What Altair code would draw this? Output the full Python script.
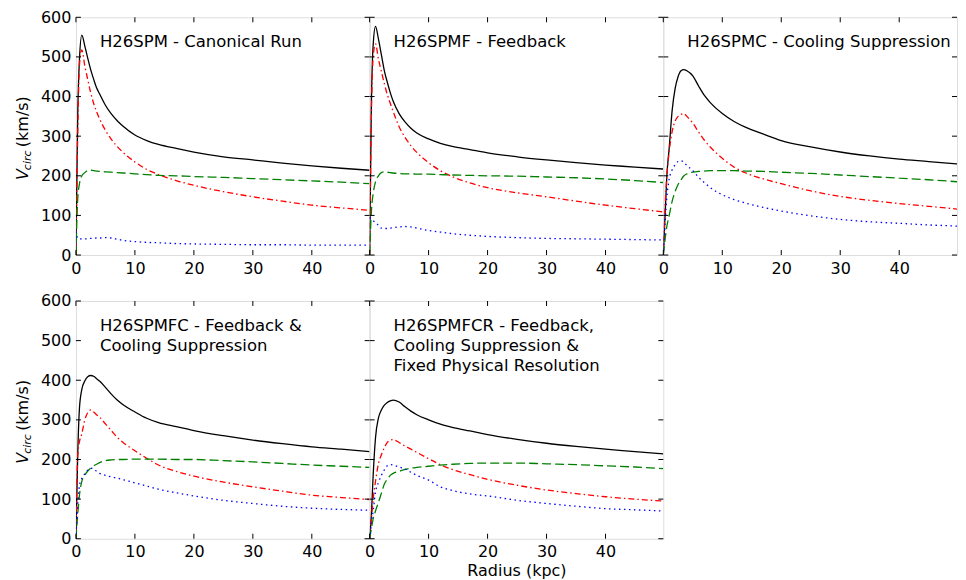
import altair as alt
import pandas as pd

FONT = "DejaVu Sans"
W, H = 294, 238

# radius grid (kpc)
R = [0, 0.3, 0.6, 1.0, 1.5, 2, 2.5, 3, 3.5, 4, 5, 6, 7, 8, 10, 12, 14, 17, 20, 25, 30, 35, 40, 45, 49.8]

X_TICKS = [0, 10, 20, 30, 40]
Y_TICKS = [0, 100, 200, 300, 400, 500, 600]

TITLES = [
    "H26SPM - Canonical Run",
    "H26SPMF - Feedback",
    "H26SPMC - Cooling Suppression",
    "H26SPMFC - Feedback &\nCooling Suppression",
    "H26SPMFCR - Feedback,\nCooling Suppression &\nFixed Physical Resolution",
]

# H26SPM
spm_total = [0, 350, 495, 555, 528, 497, 468, 444, 422, 407, 378, 356, 339, 325, 303, 289, 279, 269, 260, 248, 240, 232, 225, 219, 214]
spm_red = [0, 300, 480, 518, 478, 443, 410, 383, 362, 344, 315, 292, 274, 259, 235, 216, 203, 188, 176, 160, 147, 136, 126, 119, 113]
spm_green = [0, 140, 180, 200, 208, 213, 214, 213, 212, 211, 210, 209, 208, 207, 205, 203, 201, 200, 198, 196, 193, 190, 187, 184, 180]
spm_blue = [60, 42, 40, 41, 41, 41, 42, 42, 43, 43, 44, 43, 40, 37, 34, 32, 31, 29, 28, 27, 26, 26, 25, 25, 25]

# H26SPMF
spmf_total = [0, 380, 530, 577, 545, 505, 465, 436, 410, 388, 357, 336, 320, 308, 293, 282, 274, 266, 258, 248, 240, 233, 227, 222, 217]
spmf_red = [0, 350, 500, 533, 494, 463, 432, 405, 383, 362, 324, 297, 276, 259, 233, 213, 198, 182, 170, 157, 147, 136, 126, 117, 109]
spmf_green = [0, 110, 155, 185, 200, 208, 210, 209, 208, 207, 206, 205, 205, 204, 204, 203, 202, 201, 200, 199, 197, 195, 192, 188, 183]
spmf_blue = [95, 92, 87, 82, 75, 68, 67, 67, 68, 69, 71, 72, 71, 68, 62, 58, 54, 50, 47, 44, 42, 41, 40, 39, 38]

# H26SPMC
spmc_total = [0, 100, 200, 270, 365, 420, 450, 465, 468, 465, 452, 426, 402, 384, 357, 337, 322, 305, 289, 273, 260, 250, 242, 236, 230]
spmc_red = [0, 120, 200, 262, 312, 338, 350, 355, 357, 350, 333, 310, 289, 272, 244, 222, 207, 192, 180, 162, 148, 138, 130, 123, 116]
spmc_green = [0, 40, 72, 100, 136, 160, 178, 190, 200, 205, 209, 211, 212, 213, 213, 213, 212, 211, 209, 206, 202, 198, 194, 190, 185]
spmc_blue = [0, 80, 145, 192, 215, 228, 236, 238, 234, 226, 213, 196, 182, 170, 152, 140, 131, 120, 111, 99, 90, 84, 80, 76, 73]

# H26SPMFC
spmfc_total = [0, 210, 330, 377, 398, 409, 412, 410, 404, 398, 382, 365, 350, 338, 320, 304, 293, 283, 273, 260, 249, 240, 232, 226, 220]
spmfc_red = [0, 210, 245, 265, 300, 318, 325, 320, 313, 307, 290, 273, 256, 243, 222, 203, 186, 170, 158, 143, 131, 120, 110, 104, 99]
spmfc_green = [0, 60, 110, 145, 160, 171, 178, 184, 188, 192, 197, 199, 200, 200, 201, 201, 201, 200, 200, 197, 194, 190, 186, 183, 180]
spmfc_blue = [0, 85, 135, 152, 164, 173, 178, 176, 170, 165, 160, 156, 153, 149, 141, 133, 125, 116, 108, 97, 89, 82, 77, 74, 72]

# H26SPMFCR
spmfcr_total = [0, 60, 160, 255, 305, 325, 337, 344, 348, 350, 345, 333, 322, 313, 300, 289, 281, 272, 263, 251, 241, 233, 226, 220, 214]
spmfcr_red = [0, 50, 100, 145, 190, 212, 230, 243, 249, 250, 243, 234, 226, 218, 202, 187, 175, 162, 150, 135, 123, 114, 106, 100, 95]
spmfcr_green = [0, 25, 50, 70, 92, 115, 138, 150, 160, 165, 170, 175, 178, 180, 183, 186, 188, 190, 191, 191, 189, 187, 184, 181, 177]
spmfcr_blue = [0, 40, 70, 118, 142, 160, 174, 184, 187, 186, 181, 176, 168, 160, 148, 131, 122, 113, 108, 97, 89, 82, 76, 73, 70]

PANELS = [
    [spm_total, spm_red, spm_green, spm_blue],
    [spmf_total, spmf_red, spmf_green, spmf_blue],
    [spmc_total, spmc_red, spmc_green, spmc_blue],
    [spmfc_total, spmfc_red, spmfc_green, spmfc_blue],
    [spmfcr_total, spmfcr_red, spmfcr_green, spmfcr_blue],
]

STYLES = [
    ("total", "#000000", None),
    ("red", "#ff0000", [6, 3, 1.5, 3]),
    ("green", "#008000", [9, 4]),
    ("blue", "#0000ff", [1.5, 3.5]),
]

xs = alt.Scale(domain=[0, 49.8], nice=False, zero=False)
ys = alt.Scale(domain=[0, 600], nice=False)


def make_panel(idx, show_y, x_title):
    rows = []
    for (comp, _, _), vals in zip(STYLES, PANELS[idx]):
        for r, v in zip(R, vals):
            rows.append({"r": r, "v": v, "comp": comp})
    df = pd.DataFrame(rows)

    xaxis = alt.Axis(values=X_TICKS, ticks=False, domain=False, grid=False,
                     labelFontSize=16, labelFont=FONT, labelColor="black",
                     labelFlush=False, labelPadding=5, titleFont=FONT,
                     titleFontSize=16, titleFontWeight="normal",
                     titleColor="black", titlePadding=3)
    yaxis = alt.Axis(values=Y_TICKS, ticks=False, domain=False, grid=False,
                     labels=show_y, labelFontSize=16, labelFont=FONT,
                     labelColor="black", labelPadding=5)
    X = alt.X("r:Q", scale=xs, axis=xaxis, title=x_title if x_title else "")
    Y = alt.Y("v:Q", scale=ys, axis=yaxis, title="")

    layers = []
    for comp, color, dash in STYLES:
        kw = dict(color=color, strokeWidth=1.3, interpolate="monotone", clip=True)
        if dash:
            kw["strokeDash"] = dash
        layers.append(
            alt.Chart(df).transform_filter(alt.datum.comp == comp)
            .mark_line(**kw).encode(x=X, y=Y)
        )

    xt = pd.DataFrame({"r": X_TICKS})
    yt = pd.DataFrame({"v": Y_TICKS})
    layers.append(alt.Chart(xt).mark_rule(color="black", strokeWidth=1)
                  .encode(x=X, y=alt.value(H), y2=alt.value(H - 5)))
    layers.append(alt.Chart(xt).mark_rule(color="black", strokeWidth=1)
                  .encode(x=X, y=alt.value(0), y2=alt.value(5)))
    layers.append(alt.Chart(yt).mark_rule(color="black", strokeWidth=1)
                  .encode(y=Y, x=alt.value(0), x2=alt.value(5)))
    layers.append(alt.Chart(yt).mark_rule(color="black", strokeWidth=1)
                  .encode(y=Y, x=alt.value(W - 5), x2=alt.value(W)))

    layers.append(
        alt.Chart(pd.DataFrame({"t": [TITLES[idx]]}))
        .mark_text(align="left", baseline="alphabetic", fontSize=16.5, font=FONT,
                   lineBreak="\n", lineHeight=20, color="black")
        .encode(x=alt.value(24), y=alt.value(30), text="t:N")
    )

    if show_y:
        layers.append(alt.Chart(pd.DataFrame({"t": ["V"]})).mark_text(
            angle=270, align="left", baseline="alphabetic", fontSize=16,
            font=FONT, fontStyle="italic", color="black")
            .encode(x=alt.value(-47.5), y=alt.value(163), text="t:N"))
        layers.append(alt.Chart(pd.DataFrame({"t": ["circ"]})).mark_text(
            angle=270, align="left", baseline="alphabetic", fontSize=11,
            font=FONT, fontStyle="italic", color="black")
            .encode(x=alt.value(-44.5), y=alt.value(153), text="t:N"))
        layers.append(alt.Chart(pd.DataFrame({"t": ["(km/s)"]})).mark_text(
            angle=270, align="left", baseline="alphabetic", fontSize=16,
            font=FONT, color="black")
            .encode(x=alt.value(-47.5), y=alt.value(130), text="t:N"))

    return alt.layer(*layers).properties(width=W, height=H)


p1 = make_panel(0, True, None)
p2 = make_panel(1, False, None)
p3 = make_panel(2, False, None)
p4 = make_panel(3, True, None)
p5 = make_panel(4, False, "Radius (kpc)")

chart = alt.concat(p1, p2, p3, p4, p5, columns=3, spacing={"row": 46, "column": 0},
                   bounds="flush").properties(
    padding={"left": 7, "top": 0, "right": 0, "bottom": 0}
).configure_view(stroke="black", strokeWidth=1.2).configure(background="white")

chart.save("out.html", embed_options={"renderer": "svg", "actions": False})
